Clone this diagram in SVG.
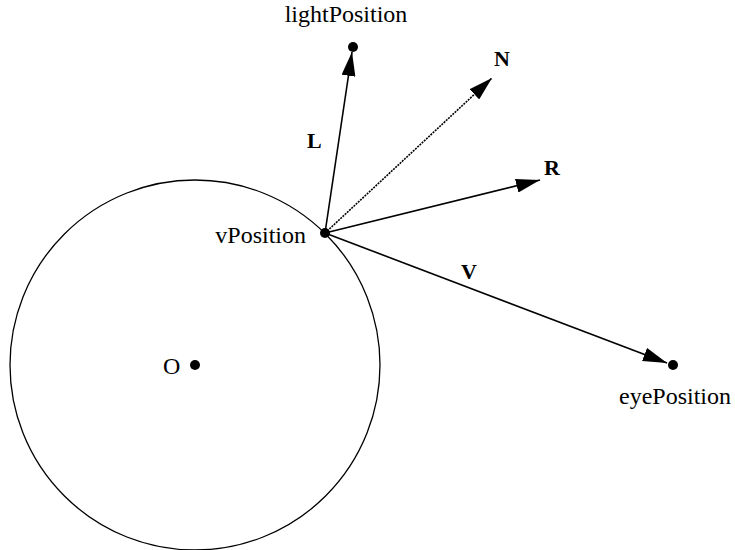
<svg xmlns="http://www.w3.org/2000/svg" width="735" height="550" viewBox="0 0 735 550">
<style>
.t{font-family:"Liberation Serif","Times New Roman",serif;font-size:24px;fill:#000}
.b{font-family:"Liberation Serif","Times New Roman",serif;font-size:22px;font-weight:bold;fill:#000}
.v{stroke:#000;stroke-width:1.6;fill:none;marker-end:url(#ah)}
</style>
<defs>
<marker id="ah" viewBox="0 0 24 14" refX="24" refY="7" markerWidth="24" markerHeight="14" markerUnits="userSpaceOnUse" orient="auto">
<path d="M0,0 L24,7 L0,14 Z" fill="#000"/>
</marker>
</defs>
<g id="sphere">
<circle cx="195" cy="365" r="185" fill="none" stroke="#000" stroke-width="1.3"/>
</g>
<g id="connectors">
<line class="v" x1="325" y1="233" x2="352" y2="52"/>
<line class="v" x1="325" y1="233" x2="492" y2="78" stroke-dasharray="2,1"/>
<line class="v" x1="325" y1="233" x2="540" y2="180"/>
<line class="v" x1="325" y1="233" x2="667" y2="363"/>
</g>
<g id="O"><circle cx="195" cy="365" r="5"/><text class="t" x="163" y="374">O</text></g>
<g id="vPosition"><circle cx="325" cy="233" r="5"/><text class="t" x="306" y="243" text-anchor="end">vPosition</text></g>
<g id="lightPosition"><circle cx="353" cy="47" r="5"/><text class="t" x="346" y="22" text-anchor="middle">lightPosition</text></g>
<g id="eyePosition"><circle cx="673" cy="365" r="5"/><text class="t" x="675" y="404" text-anchor="middle">eyePosition</text></g>
<g id="labels">
<text class="b" x="307" y="148">L</text>
<text class="b" x="494" y="66">N</text>
<text class="b" x="544" y="175">R</text>
<text class="b" x="461" y="279">V</text>
</g>
</svg>
